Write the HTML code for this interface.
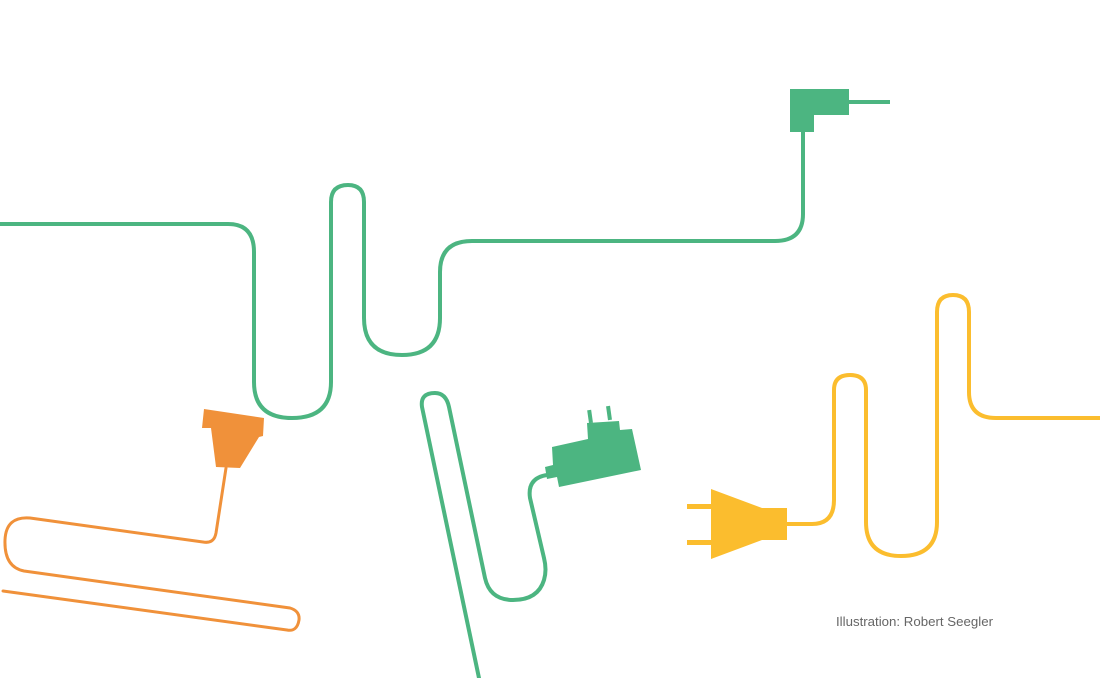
<!DOCTYPE html>
<html><head><style>
html,body{margin:0;padding:0;background:#fff;width:1100px;height:678px;overflow:hidden}
svg{display:block}
</style></head><body>
<svg width="1100" height="678" viewBox="0 0 1100 678" xmlns="http://www.w3.org/2000/svg">
<g fill="none" stroke-linecap="round" stroke-linejoin="round">
<path stroke="#4cb581" stroke-width="4" d="M0 224 L228 224 Q254 224 254 252 L254 382 Q254 418 292 418 Q331 418 331 382 L331 202 Q331 185 348 185 Q364 185 364 202 L364 318 Q364 355 402 355 Q440 355 440 318 L440 272 Q440 241 472 241 L775 241 Q803 241 803 214 L803 130"/>
<path stroke="#4cb581" stroke-width="4" d="M479 678 L422 407 Q420 393 435 393 Q446 393 449 407 L485 578 Q490 600 513 600 Q538 600 544 580 Q547 570 544 558 L530 498 Q527 478 547 475"/>
<path stroke="#f0913a" stroke-width="3" d="M226 468 L216 533 Q214 544 203 542 L30 518 Q6 516 5 540 Q4 567 24 571 L290 608 Q300 611 299 620 Q297 632 287 630 L3 591"/>
<path stroke="#fbbd2e" stroke-width="4" d="M787 524 L812 524 Q834 524 834 500 L834 390 Q834 375 850 375 Q866 375 866 390 L866 522 Q866 556 901 556 Q937 556 937 522 L937 312 Q937 295 953 295 Q969 295 969 312 L969 392 Q969 418 996 418 L1100 418"/>
</g>
<polygon fill="#4cb581" points="790,89 849,89 849,115 814,115 814,132 790,132"/>
<rect x="848" y="100" width="42" height="4" fill="#4cb581"/>
<polygon fill="#4cb581" points="552,447 588,439 587,423 619,421 620,430 632,429 641,470 559,487 557,477 547,479 545,467 553,465"/>
<rect x="588" y="410" width="4" height="13" fill="#4cb581" transform="rotate(-8 590 416)"/>
<rect x="607" y="406" width="4" height="14" fill="#4cb581" transform="rotate(-8 609 413)"/>
<polygon fill="#fbbd2e" points="711,489 762,508 787,508 787,540 762,540 711,559"/>
<rect x="687" y="504" width="25" height="5" fill="#fbbd2e"/>
<rect x="687" y="540" width="25" height="5" fill="#fbbd2e"/>
<polygon fill="#f0913a" points="204,409 264,418 263,436 259,437 240,468 216,467 211,428 202,428"/>
<text x="836" y="626" font-family="Liberation Sans, sans-serif" font-size="12.5" fill="#666" textLength="157" lengthAdjust="spacingAndGlyphs">Illustration: Robert Seegler</text>
</svg>
</body></html>
